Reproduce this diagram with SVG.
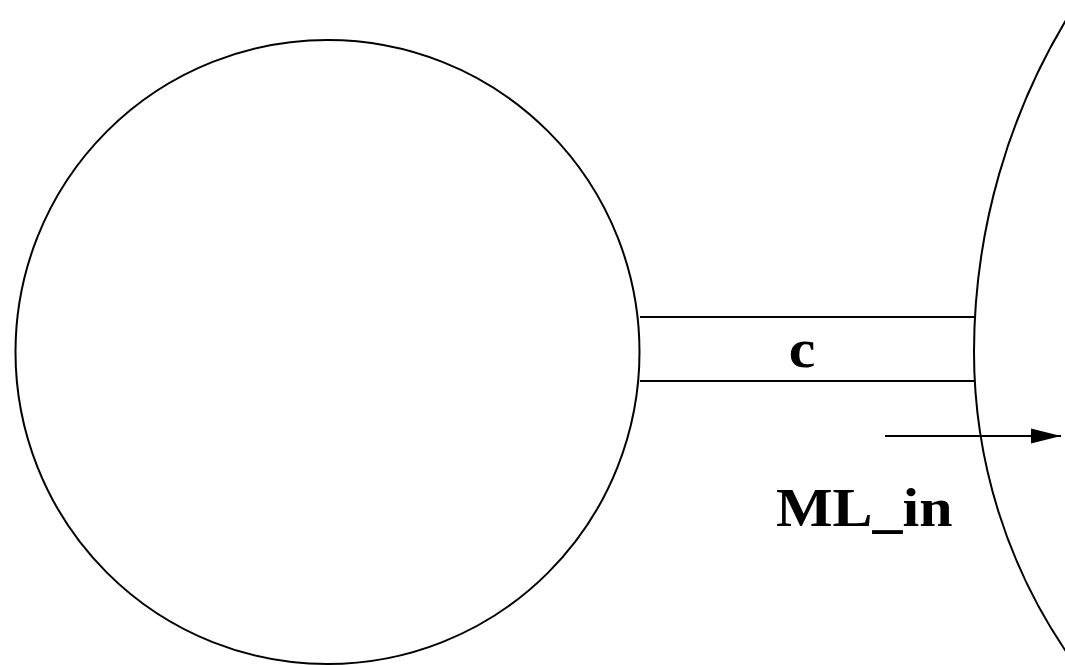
<svg xmlns="http://www.w3.org/2000/svg" width="1065" height="665" viewBox="0 0 1065 665">
<style>
.s{fill:none;stroke:#000;stroke-width:2}
.t{font-family:"Liberation Serif","Times New Roman",serif;font-weight:bold;font-size:54px;fill:#000}
</style>
<defs>
<marker id="ah" markerWidth="32" markerHeight="16" refX="30" refY="8" orient="auto" markerUnits="userSpaceOnUse">
<path d="M0,0.5 L30,8 L0,15.5 Z" fill="#000"/>
</marker>
</defs>
<rect width="1065" height="665" fill="#fff"/>
<g id="left-node">
<circle class="s" cx="327.5" cy="352" r="312"/>
</g>
<g id="right-node">
<path class="s" d="M1072.2,10 A647,647 0 0 0 974,352 A533.4,533.4 0 0 0 1068.4,655"/>
</g>
<g id="connectors">
<g id="channel-c">
<line class="s" x1="640" y1="317" x2="975" y2="317"/>
<line class="s" x1="640" y1="381" x2="975" y2="381"/>
<text class="t" text-anchor="middle" transform="translate(802,366.5) scale(1.11,1)">c</text>
</g>
<g id="arrow-ml-in">
<line class="s" x1="885" y1="436" x2="1061" y2="436" marker-end="url(#ah)"/>
<text class="t" transform="translate(776,526) scale(1.11,1)">ML_in</text>
</g>
</g>
</svg>
